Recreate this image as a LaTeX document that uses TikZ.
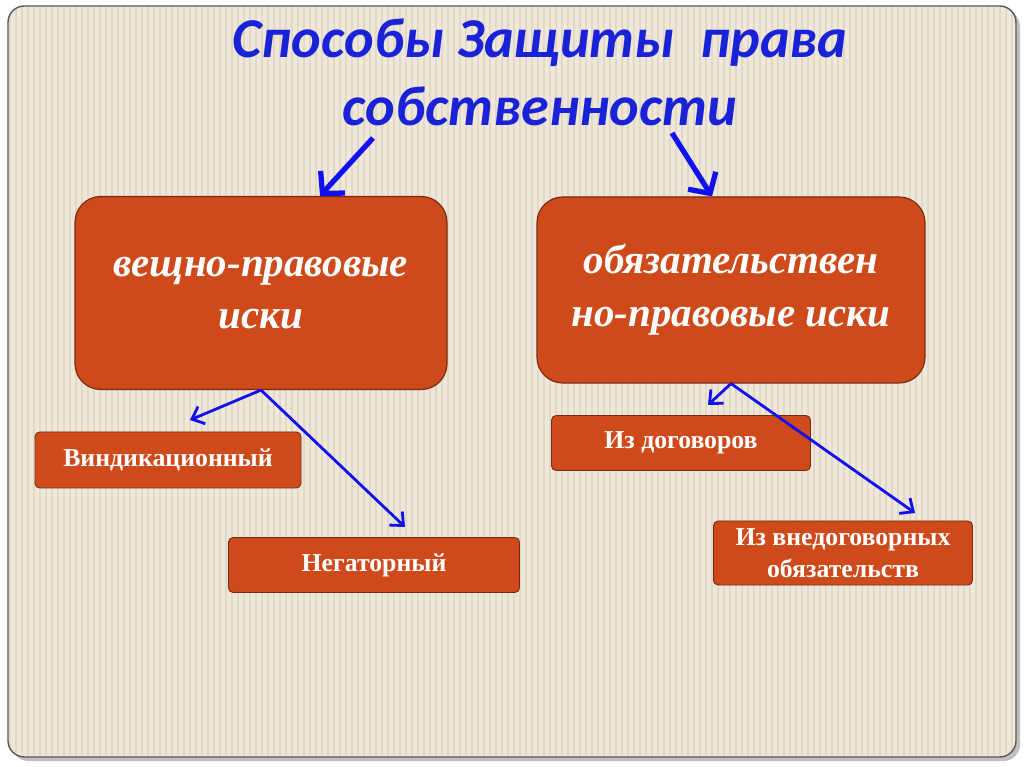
\documentclass[tikz,border=0pt]{standalone}
\usepackage{fontspec}
\setmainfont{Liberation Serif}
\newfontfamily\titlefont{Carlito}
\usetikzlibrary{arrows.meta}
\definecolor{bg}{HTML}{EEE7DA}
\definecolor{stripe}{HTML}{E2D8C6}
\definecolor{boxc}{HTML}{CF4A1B}
\definecolor{boxd}{HTML}{7A2A10}
\definecolor{arr}{HTML}{1010F0}
\definecolor{ttl}{HTML}{1A22D8}
\tikzset{
 big/.style={draw=boxd,fill=boxc,rounded corners=22pt,line width=1pt,text=white,font=\fontsize{35}{45}\selectfont\bfseries\itshape,align=center},
 small/.style={draw=boxd,fill=boxc,rounded corners=4pt,line width=0.8pt,text=white,font=\fontsize{22}{27}\selectfont\bfseries,align=center},
 thin/.style={draw=arr,line width=2.4pt,-{Straight Barb[length=9pt,width=16pt]}},
 thick/.style={draw=arr,line width=4.5pt,-{Straight Barb[length=13pt,width=28pt]}},
}
\begin{document}
\begin{tikzpicture}[x=0.03cm,y=-0.03cm]
\useasboundingbox (0,0) rectangle (1024,767);
\fill[white] (0,0) rectangle (1024,767);
\fill[gray!50,rounded corners=14pt] (12,10) rectangle (1020,761);
\fill[bg,rounded corners=14pt] (8,6) rectangle (1016,757);
\begin{scope}
\clip[rounded corners=14pt] (8,6) rectangle (1016,757);
\foreach \x in {10,16,...,1016} \draw[stripe,line width=1.4pt] (\x,6) -- (\x,757);
\end{scope}
\draw[gray!70!black,line width=1.2pt,rounded corners=14pt] (8,6) rectangle (1016,757);
\node[font=\titlefont\fontsize{48}{58}\selectfont\bfseries\itshape,text=ttl,align=center] (title) at (540,72) {Способы Защиты \ права\\собственности};
\node[big,minimum width=372*0.03cm,minimum height=193*0.03cm] (L) at (261,293) {вещно-правовые\\иски};
\node[big,minimum width=388*0.03cm,minimum height=186*0.03cm] (R) at (731,290) {обязательствен\\но-правовые иски};
\node[small,minimum width=266*0.03cm,minimum height=56*0.03cm] (A) at (168,460) {Виндикационный};
\node[small,minimum width=291*0.03cm,minimum height=55*0.03cm] (B) at (374,565) {Негаторный};
\node[small,minimum width=259*0.03cm,minimum height=55*0.03cm] (C) at (681,443) {Из договоров};
\node[small,minimum width=259*0.03cm,minimum height=64*0.03cm] (D) at (843,553) {Из внедоговорных\\обязательств};
\coordinate (t1) at (373,138); \coordinate (t2) at (672,133);
\draw[thick] (t1) -- (L.north -| 320,0);
\draw[thick] (t2) -- (R.north -| 712,0);
\draw[thin] (L.south) -- (190,420);
\draw[thin] (L.south) -- (405,527);
\draw[thin] (R.south) -- (708,405);
\draw[thin] (R.south) -- (915,513);
\end{tikzpicture}
\end{document}
